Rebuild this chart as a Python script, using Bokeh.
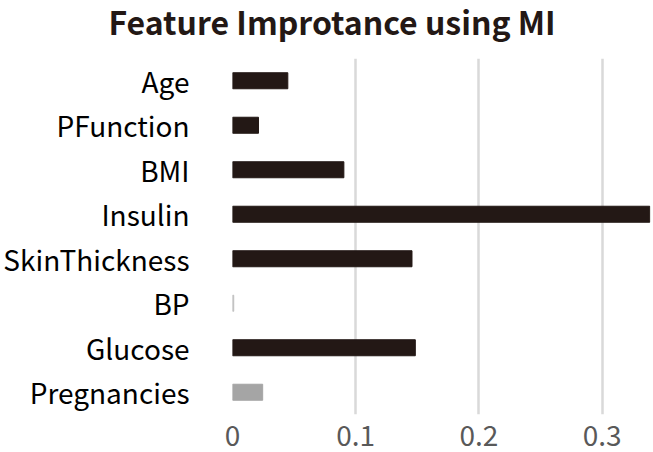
from bokeh.plotting import figure
from bokeh.models import Range1d, FactorRange, Title, ColumnDataSource
from bokeh.embed import file_html
from bokeh.resources import INLINE

features = ["Pregnancies", "Glucose", "BP", "SkinThickness", "Insulin", "BMI", "PFunction", "Age"]
mi_values = [0.0245, 0.1484, 0.001, 0.1457, 0.3387, 0.0904, 0.0211, 0.0449]
bar_colors = ["#A5A5A5", "#231815", "#BFBFBF", "#231815", "#231815", "#231815", "#231815", "#231815"]
x_ticks = [0, 0.1, 0.2, 0.3]
title_text = "Feature Improtance using MI"

FONT = "Noto Sans CJK JP"

src = ColumnDataSource(dict(feature=features, mi=mi_values, color=bar_colors))

p = figure(width=653, height=452, output_backend="svg", toolbar_location=None,
           y_range=FactorRange(*features, range_padding=0),
           x_range=Range1d(0, 0.3393),
           min_border_left=231, min_border_right=3, min_border_top=58, min_border_bottom=38)

p.hbar(y="feature", right="mi", left=0, height=0.36, fill_color="color",
       line_color="color", source=src)

p.outline_line_color = None
p.ygrid.grid_line_color = None
p.xgrid.grid_line_color = "#D9D9D9"
p.xgrid.grid_line_width = 2.5

p.xaxis.ticker = x_ticks
p.xaxis.axis_line_color = None
p.xaxis.major_tick_line_color = None
p.xaxis.minor_tick_line_color = None
p.xaxis.major_tick_out = 0
p.xaxis.major_tick_in = 0
p.xaxis.minor_tick_out = 0
p.xaxis.major_label_text_font = FONT
p.xaxis.major_label_text_font_size = "28px"
p.xaxis.major_label_text_color = "#595959"
p.xaxis.major_label_standoff = 10

p.yaxis.axis_line_color = None
p.yaxis.major_tick_line_color = None
p.yaxis.minor_tick_line_color = None
p.yaxis.major_tick_out = 0
p.yaxis.major_tick_in = 0
p.yaxis.minor_tick_out = 0
p.yaxis.major_label_text_font = FONT
p.yaxis.major_label_text_font_size = "28px"
p.yaxis.major_label_text_color = "#000000"
p.yaxis.major_label_standoff = 43

# spacer panel between the frame and the title
spacer = Title(text=" ", text_font=FONT, text_font_size="1px", standoff=19.5)
p.add_layout(spacer, "above")

t = Title(text=title_text, align="left", offset=-124,
          vertical_align="top", text_font=FONT, text_font_size="32px",
          text_font_style="bold", text_color="#231815", standoff=-20)
p.add_layout(t, "above")

open("out.html", "w").write(file_html(p, INLINE))
